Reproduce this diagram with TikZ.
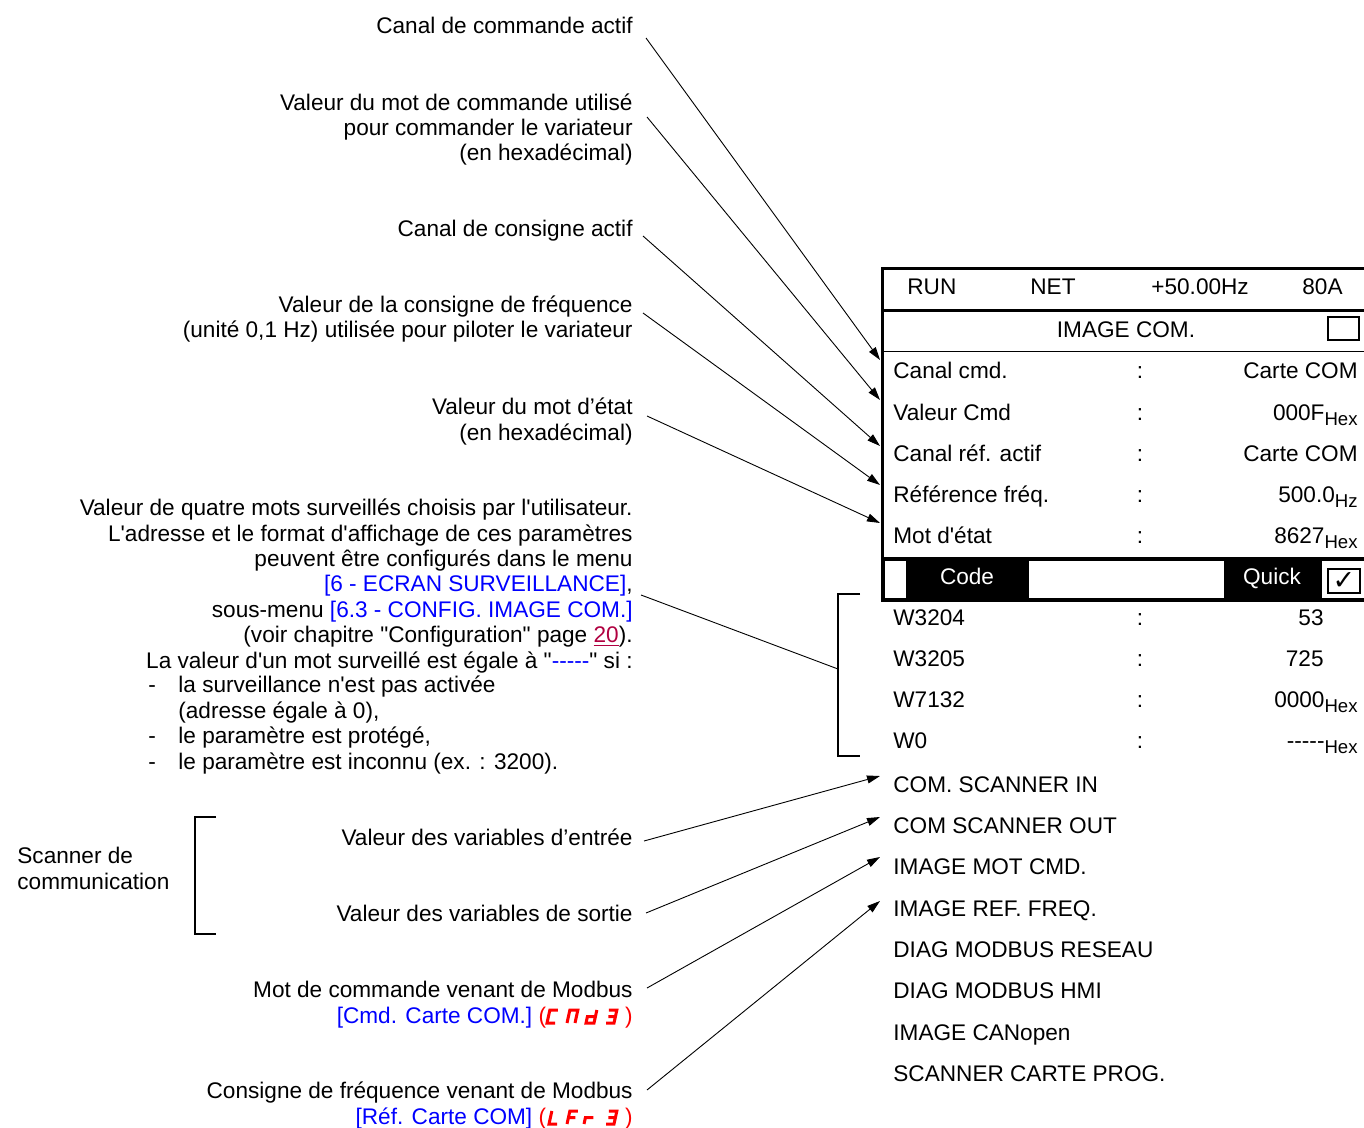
\documentclass[tikz,border=0pt]{standalone}
\usepackage{fontspec}
\setmainfont{Liberation Sans}[Ligatures=TeXOff]
\newfontfamily\symfont{DejaVu Sans}
\usetikzlibrary{arrows.meta}
\definecolor{menublue}{RGB}{0, 0, 255}
\definecolor{linkred}{RGB}{176, 0, 64}
\definecolor{segred}{RGB}{255, 0, 0}

\newcommand{\hexsub}[1]{\raisebox{-2.6pt}{\fontsize{9.3}{10}\selectfont #1}}
\newcommand{\segglyph}[2]{\begin{scope}[shift={#1}, xslant=0.22]\draw[seg] #2;\end{scope}}

\tikzset{
  note/.style   = {align=right, anchor=base east, inner sep=0pt},
  lcd/.style    = {anchor=base west, inner sep=0pt},
  lcdval/.style = {anchor=base east, inner sep=0pt},
  colon/.style  = {anchor=base, inner sep=0pt},
  ptr/.style    = {-{Triangle[length=6.5pt,width=4pt]}, line width=0.45pt},
  seg/.style    = {segred, line width=1.5pt, line cap=butt, line join=miter},
}

\begin{document}
\begin{tikzpicture}[x=0.5pt, y=-0.5pt, font=\fontsize{11.3}{12.7}\selectfont]
            \useasboundingbox (0,0) rectangle (1364,1128);
            % Notes on the left (placed by the baseline of their last line)
            \node[note] (cmdch)   at (633,  34) {Canal de commande actif};
            \node[note] (cmdword) at (633, 161) {Valeur du mot de commande utilisé\\pour commander le variateur\\(en hexadécimal)};
            \node[note] (refch)   at (633, 237) {Canal de consigne actif};
            \node[note] (freqref) at (633, 338) {Valeur de la consigne de fréquence\\(unité 0,1 Hz) utilisée pour piloter le variateur};
            \node[note] (stword)  at (633, 440) {Valeur du mot d’état\\(en hexadécimal)};
            \node[note] (watch)   at (633, 668) {Valeur de quatre mots surveillés choisis par l'utilisateur.\\
                 L'adresse et le format d'affichage de ces paramètres\\
                 peuvent être configurés dans le menu\\
                 \textcolor{menublue}{[6 - ECRAN SURVEILLANCE]},\\
                 sous-menu \textcolor{menublue}{[6.3 - CONFIG. IMAGE COM.]}\\
                 (voir chapitre "Configuration" page \textcolor{linkred}{\underline{20}}).\\
                 La valeur d'un mot surveillé est égale à "\textcolor{menublue}{-----}" si :};
            \node[lcd, align=left] (cases) at (148, 769) {\makebox[15pt][l]{-}la surveillance n'est pas activée\\
                 \hspace*{15pt}(adresse égale à 0),\\
                 \makebox[15pt][l]{-}le paramètre est protégé,\\
                 \makebox[15pt][l]{-}le paramètre est inconnu (ex. : 3200).};
            \node[note] (inval)   at (633, 845) {Valeur des variables d’entrée};
            \node[note] (outval)  at (633, 921) {Valeur des variables de sortie};
            \node[note] (mbcmd)   at (633,1023) {Mot de commande venant de Modbus\\
                 \textcolor{menublue}{[Cmd. Carte COM.]} \textcolor{segred}{(\hspace*{39.5pt})}};
            \node[note] (mbref)   at (633,1124) {Consigne de fréquence venant de Modbus\\
                 \textcolor{menublue}{[Réf. Carte COM]} \textcolor{segred}{(\hspace*{39.5pt})}};
            \node[lcd, align=left] (scan) at (17, 889) {Scanner de\\communication};
            % Display codes
            \segglyph{(547,1023)}{(8,-13) -- (0,-13) -- (0,0) -- (8,0)}
            \segglyph{(567,1023)}{(0,0) -- (0,-13) -- (8,-13) -- (8,0)}
            \segglyph{(586,1023)}{(8,-13) -- (8,0) -- (0,0) -- (0,-6.5) -- (8,-6.5)}
            \segglyph{(606,1023)}{(0,-13) -- (8,-13) -- (8,0) -- (0,0) (1,-6.5) -- (8,-6.5)}
            \segglyph{(549,1124)}{(0,-13) -- (0,0) -- (8,0)}
            \segglyph{(567,1124)}{(8,-13) -- (0,-13) -- (0,0) (0,-6.5) -- (7,-6.5)}
            \segglyph{(584,1124)}{(0,0) -- (0,-6.5) -- (8,-6.5)}
            \segglyph{(606,1124)}{(0,-13) -- (8,-13) -- (8,0) -- (0,0) (1,-6.5) -- (8,-6.5)}
            % Brackets
            \draw[line width=0.6pt] (860, 594) -- (838, 594) -- (838, 756) -- (860, 756);
            \draw[line width=0.6pt] (216, 817) -- (195, 817) -- (195, 934) -- (216, 934);
            % Display frame
            \draw[line width=1.5pt] (1364, 269) -- (882, 269) -- (882, 602);
            \draw[line width=1.5pt] ( 882, 311) -- (1364, 311);
            \draw[line width=0.7pt] ( 882, 351.5) -- (1364, 351.5);
            \draw[line width=1pt]   (1328, 317) rectangle (1359, 340);
            \fill[black]            ( 882, 557) rectangle (1364, 602);
            \fill[white]            ( 885, 561) rectangle ( 906, 598);
            \fill[white]            (1029, 561) rectangle (1224, 598);
            \fill[white]            (1322, 561) rectangle (1364, 598);
            \draw[line width=1pt]   (1328, 569) rectangle (1360, 593);
            \node[colon] (tick) at (1344, 589) {\fontsize{13.5}{14}\symfont ✓};
            % Status line and title
            \node[lcd] (run)  at ( 907, 295) {RUN};
            \node[lcd] (net)  at (1030, 295) {NET};
            \node[lcd] (freq) at (1151, 295) {+50.00Hz};
            \node[lcd] (amps) at (1302, 295) {80A};
            \node[colon] (title) at (1126, 337) {IMAGE COM.};
            % Rows
            \node[lcd] (row1) at (893, 379) {Canal cmd.};
            \node[lcd] (row2) at (893, 420) {Valeur Cmd};
            \node[lcd] (row3) at (893, 461) {Canal réf. actif};
            \node[lcd] (row4) at (893, 502) {Référence fréq.};
            \node[lcd] (row5) at (893, 543) {Mot d'état};
            \foreach \y in {379, 420, 461, 502, 543, 625, 666, 707, 748}
                \node[colon] at (1140, \y) {:};
            \node[lcdval] (val1) at (1358, 379) {Carte COM};
            \node[lcdval] (val2) at (1358, 420) {000F\hexsub{Hex}};
            \node[lcdval] (val3) at (1358, 461) {Carte COM};
            \node[lcdval] (val4) at (1358, 502) {500.0\hexsub{Hz}};
            \node[lcdval] (val5) at (1358, 543) {8627\hexsub{Hex}};
            % Soft keys
            \node[colon, white] (code)  at ( 967, 584) {Code};
            \node[colon, white] (quick) at (1272, 584) {Quick};
            % Watched words
            \node[lcd] (w1) at (893, 625) {W3204};
            \node[lcd] (w2) at (893, 666) {W3205};
            \node[lcd] (w3) at (893, 707) {W7132};
            \node[lcd] (w4) at (893, 748) {W0};
            \node[lcdval] (wv1) at (1324, 625) {53};
            \node[lcdval] (wv2) at (1324, 666) {725};
            \node[lcdval] (wv3) at (1358, 707) {0000\hexsub{Hex}};
            \node[lcdval] (wv4) at (1358, 748) {-----\hexsub{Hex}};
            % Menu entries
            \node[lcd] (m1) at (893, 792) {COM. SCANNER IN};
            \node[lcd] (m2) at (893, 833) {COM SCANNER OUT};
            \node[lcd] (m3) at (893, 874) {IMAGE MOT CMD.};
            \node[lcd] (m4) at (893, 916) {IMAGE REF. FREQ.};
            \node[lcd] (m5) at (893, 957) {DIAG MODBUS RESEAU};
            \node[lcd] (m6) at (893, 998) {DIAG MODBUS HMI};
            \node[lcd] (m7) at (893,1040) {IMAGE CANopen};
            \node[lcd] (m8) at (893,1081) {SCANNER CARTE PROG.};
            % Pointer ends
            \coordinate (cmdch-o)   at (646,  38);  \coordinate (row1-in) at (880, 360);
            \coordinate (cmdword-o) at (647, 117);  \coordinate (row2-in) at (880, 400);
            \coordinate (refch-o)   at (643, 236);  \coordinate (row3-in) at (880, 446);
            \coordinate (freqref-o) at (643, 313);  \coordinate (row4-in) at (880, 485);
            \coordinate (stword-o)  at (647, 416);  \coordinate (row5-in) at (880, 523);
            \coordinate (watch-o)   at (641, 595);  \coordinate (watch-b) at (838, 669);
            \coordinate (inval-o)   at (644, 841);  \coordinate (m1-in)   at (880, 776);
            \coordinate (outval-o)  at (646, 913);  \coordinate (m2-in)   at (880, 817);
            \coordinate (mbcmd-o)   at (647, 988);  \coordinate (m3-in)   at (880, 857);
            \coordinate (mbref-o)   at (647,1090);  \coordinate (m4-in)   at (880, 901);
            % Pointers
            \draw[ptr] (cmdch-o)   -- (row1-in);
            \draw[ptr] (cmdword-o) -- (row2-in);
            \draw[ptr] (refch-o)   -- (row3-in);
            \draw[ptr] (freqref-o) -- (row4-in);
            \draw[ptr] (stword-o)  -- (row5-in);
            \draw[line width=0.45pt] (watch-o) -- (watch-b);
            \draw[ptr] (inval-o)   -- (m1-in);
            \draw[ptr] (outval-o)  -- (m2-in);
            \draw[ptr] (mbcmd-o)   -- (m3-in);
            \draw[ptr] (mbref-o)   -- (m4-in);
\end{tikzpicture}
\end{document}
